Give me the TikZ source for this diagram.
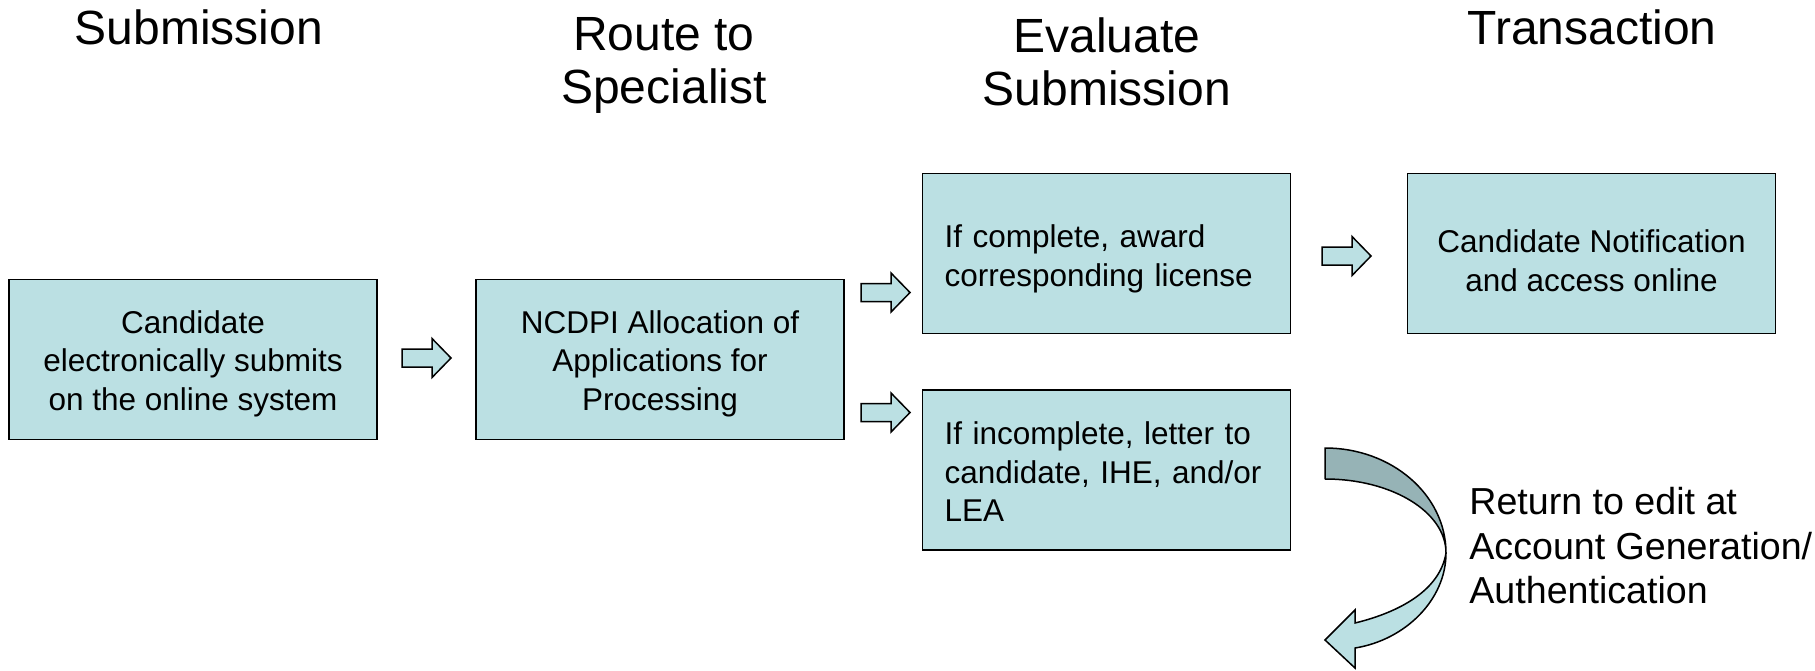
\documentclass[tikz,border=0pt]{standalone}
\usepackage{fontspec}
\setmainfont{Liberation Sans}
\definecolor{boxfill}{HTML}{BBE0E3}
\definecolor{darkfill}{HTML}{96B3B6}
\begin{document}
\begin{tikzpicture}[x=0.5pt,y=-0.5pt,
  box/.style={draw=black, line width=0.75pt, fill=boxfill, minimum width=184pt, minimum height=80pt, inner sep=0pt},
  txt/.style={inner sep=0pt, align=center, font=\fontsize{15.75}{19.25}\selectfont},
  ltxt/.style={txt, text width=162pt, align=left},
  head/.style={anchor=north, inner sep=0pt, align=center, font=\fontsize{24}{26.5}\selectfont},
  blk/.style={draw=black, line width=0.75pt, fill=boxfill, line join=miter},
  blkarrow/.pic={\path[blk] (-24.5,-9) -- (5.5,-9) -- (5.5,-19.5) -- (24.5,0) -- (5.5,19.5) -- (5.5,9) -- (-24.5,9) -- cycle;}
]
\useasboundingbox (0,0) rectangle (1815,670);

% headings
\node[head] (h1) at (199,9) {Submission};
\node[head] (h2) at (664,17) {Route to\\Specialist};
\node[head] (h3) at (1107,17) {Evaluate\\Submission};
\node[head] (h4) at (1592,9) {Transaction};

% boxes
\node[box] (b1) at (193,359.5) {};
\node[box] (b2) at (660,359.5) {};
\node[box] (b3) at (1106.5,253.5) {};
\node[box] (b4) at (1106.5,470) {};
\node[box] (b5) at (1591.5,253.5) {};

\node[txt] (t1) at ([yshift=-2pt]b1.center) {Candidate\\electronically submits\\on the online system};
\node[txt] (t2) at ([yshift=-2pt]b2.center) {NCDPI Allocation of\\Applications for\\Processing};
\node[ltxt] (t3) at ([yshift=-2.7pt]b3.center) {If complete, award\\corresponding license};
\node[ltxt] (t4) at ([yshift=-1pt]b4.center) {If incomplete, letter to\\candidate, IHE, and/or\\LEA};
\node[txt] (t5) at ([yshift=-3.5pt]b5.center) {Candidate Notification\\and access online};

% block arrows
\pic (a1) at (426.5,358) {blkarrow};
\pic (a2) at (885.5,292.5) {blkarrow};
\pic (a3) at (885.5,412.5) {blkarrow};
\pic (a4) at (1346.5,256) {blkarrow};

% curved return arrow
\path[draw=black, line width=0.75pt, fill=darkfill, line join=round]
  (1325,448) .. controls (1392,448) and (1446,495) .. (1446,553)
  .. controls (1446,512) and (1392,479) .. (1325,479) -- cycle;
\path[draw=black, line width=0.75pt, fill=boxfill, line join=miter]
  (1446,553) .. controls (1446,600) and (1405,640) .. (1355,648)
  -- (1355,668) -- (1325,640) -- (1355,610) -- (1355,623)
  .. controls (1400,612) and (1440,590) .. (1446,553) -- cycle;

\node[anchor=north west, inner sep=0pt, align=left, font=\fontsize{18.8}{22.3}\selectfont] (ret) at (1469,487) {Return to edit at\\Account Generation/\\Authentication};
\end{tikzpicture}
\end{document}
